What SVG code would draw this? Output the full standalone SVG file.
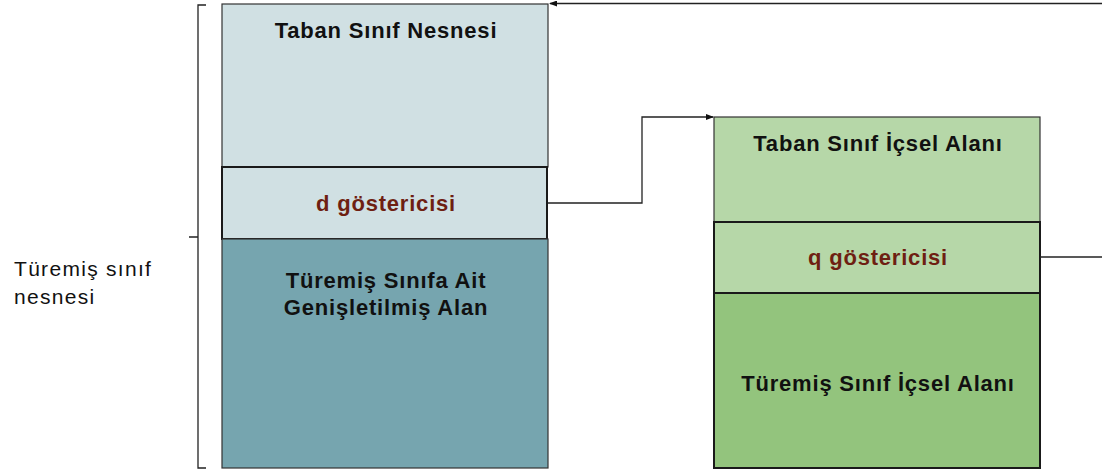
<svg xmlns="http://www.w3.org/2000/svg" width="1102" height="474" viewBox="0 0 1102 474">
  <style>
    .t { font-family: "Liberation Sans", Arial, sans-serif; font-weight: bold; font-size: 22px; letter-spacing: 0.8px; fill: #111; text-anchor: middle; }
    .p { fill: #6e1f12; }
    .lbl { font-family: "Liberation Sans", Arial, sans-serif; font-size: 21px; letter-spacing: 1.3px; fill: #111; }
    .box { stroke: #333; stroke-width: 1.2; }
    .ptr { stroke: #1a1a1a; stroke-width: 2; }
    .ln { fill: none; stroke: #222; stroke-width: 1.3; }
  </style>
  <defs>
    <marker id="arr" markerWidth="8" markerHeight="6" refX="7" refY="3" orient="auto" markerUnits="userSpaceOnUse">
      <path d="M0,0 L8,3 L0,6 Z" fill="#111"/>
    </marker>
  </defs>
  <rect width="1102" height="474" fill="#fff"/>

  <!-- brace around the derived object -->
  <g id="brace">
    <path class="ln" d="M206,5 H198 V468 H206 M198,237 H189"/>
    <text class="lbl" x="14" y="276">Türemiş sınıf</text>
    <text class="lbl" x="14" y="304">nesnesi</text>
  </g>

  <!-- derived class object -->
  <g id="base-object">
    <rect class="box" x="222" y="4" width="326" height="163" fill="#d0e0e3"/>
    <text class="t" x="386" y="38">Taban Sınıf Nesnesi</text>
  </g>
  <g id="d-pointer">
    <rect class="ptr" x="222" y="167" width="325" height="72" fill="#d0e0e3"/>
    <text class="t p" x="386" y="211">d göstericisi</text>
  </g>
  <g id="derived-extension">
    <rect class="box" x="222" y="239" width="326" height="229" fill="#76a5af"/>
    <text class="t" x="386" y="288">Türemiş Sınıfa Ait</text>
    <text class="t" x="386" y="315">Genişletilmiş Alan</text>
  </g>

  <!-- internal data blocks -->
  <g id="base-internal">
    <rect class="box" x="714" y="117" width="326" height="105" fill="#b6d7a8"/>
    <text class="t" x="878" y="151">Taban Sınıf İçsel Alanı</text>
  </g>
  <g id="q-pointer">
    <rect class="ptr" x="714" y="222" width="326" height="71" fill="#b6d7a8"/>
    <text class="t p" x="878" y="265">q göstericisi</text>
  </g>
  <g id="derived-internal">
    <rect class="ptr" x="714" y="293" width="326" height="175" fill="#93c47d"/>
    <text class="t" x="878" y="391">Türemiş Sınıf İçsel Alanı</text>
  </g>

  <!-- connectors -->
  <g id="connectors">
    <path class="ln" d="M548,203 H642 V117 H713" marker-end="url(#arr)"/>
    <path class="ln" d="M1040,257 H1102"/>
    <path class="ln" d="M1102,3.5 H550" marker-end="url(#arr)"/>
  </g>
</svg>
